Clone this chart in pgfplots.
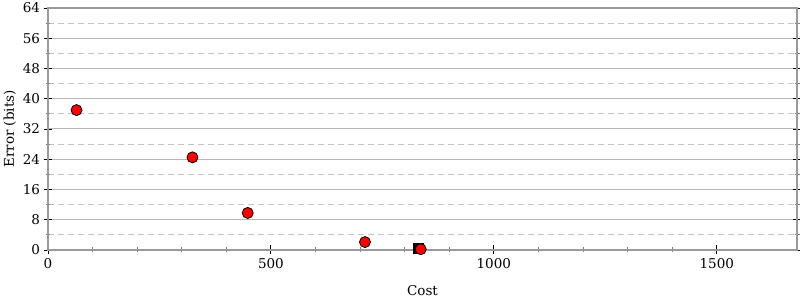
\documentclass[border=0pt]{standalone}
\usepackage{fontspec}
\setmainfont{DejaVu Serif}
\usepackage{pgfplots}
\pgfplotsset{compat=1.18}
\definecolor{axgray}{HTML}{9A9A9A}
\definecolor{majgrid}{HTML}{B8B8B8}
\definecolor{mingrid}{HTML}{C4C4C4}
\begin{document}
\begin{tikzpicture}
\begin{axis}[
  scale only axis,
  width=749pt, height=242pt,
  xmin=0, xmax=1680, ymin=0, ymax=64,
  xtick={0,500,1000,1500}, minor x tick num=4,
  ytick={0,8,16,24,32,40,48,56,64}, minor y tick num=1,
  xtick pos=bottom,
  tick align=center,
  major tick length=9pt, minor tick length=5pt,
  every tick/.style={black, line width=0.9pt},
  minor tick style={axgray!80!black, line width=0.8pt},
  ymajorgrids, yminorgrids,
  major grid style={majgrid, line width=1pt},
  minor grid style={mingrid, dashed, dash pattern=on 6pt off 4pt, line width=1pt},
  axis line style={axgray, line width=2pt},
  font=\fontsize{13.5}{15}\selectfont,
  ticklabel style={font=\fontsize{13.5}{15}\selectfont},
  /pgf/number format/assume math mode=true,
  /pgf/number format/1000 sep={},
  xlabel={Cost}, ylabel={Error (bits)},
  xlabel style={yshift=-10pt},
  ylabel style={yshift=0pt},
  clip=false,
]
\addplot[only marks, mark=square*, mark size=5pt, draw=black, fill=black] coordinates {(830,0.4)};
\addplot[only marks, mark=*, mark size=5.5pt, draw=black, fill=red, line width=0.8pt] coordinates {
(64,37.0) (324,24.5) (448,9.8) (711,2.1) (836,0.2)};
\end{axis}
\pgfresetboundingbox
\path ([shift={(-48pt,-50pt)}]current axis.south west) rectangle ([shift={(3pt,8pt)}]current axis.north east);
\end{tikzpicture}
\end{document}
